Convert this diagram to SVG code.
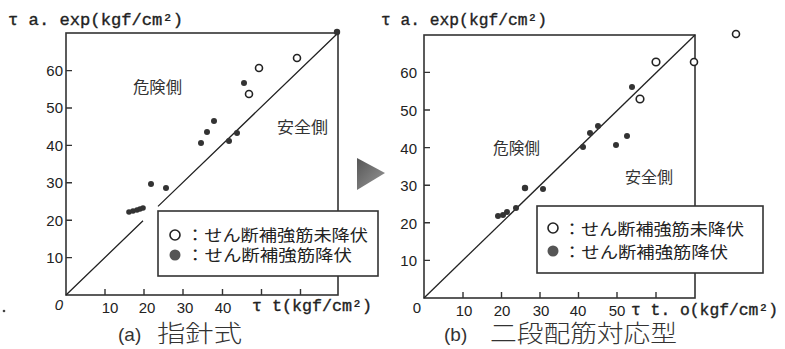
<svg xmlns="http://www.w3.org/2000/svg" width="785" height="349" viewBox="0 0 785 349">
<defs>
<linearGradient id="tri" x1="0" y1="0" x2="1" y2="1">
<stop offset="0" stop-color="#555"/><stop offset="1" stop-color="#999"/>
</linearGradient>
<style>
.frame{fill:none;stroke:#333;stroke-width:1.6}
.ax{stroke:#333;stroke-width:1.4;fill:none}
.diag{stroke:#222;stroke-width:1.3;fill:none}
.num{font-family:"Liberation Sans",Arial,sans-serif;font-size:15px;fill:#222}
.mono{font-family:"Liberation Mono","Courier New",monospace;font-size:16px;fill:#222;stroke:#222;stroke-width:0.35}
.jp{font-family:"Noto Sans CJK JP",sans-serif;font-size:16px;fill:#333}
.leg{font-family:"Noto Sans CJK JP",sans-serif;font-size:16px;fill:#222}
.cap{font-family:"Noto Sans CJK JP",sans-serif;font-size:24px;fill:#333;font-weight:300}
.capa{font-family:"Liberation Sans",sans-serif;font-size:19px;fill:#333}
.box{fill:#fff;stroke:#333;stroke-width:1.6}
.f{fill:#333}
.o{fill:#fff;stroke:#222;stroke-width:1.6}
</style>
</defs>
<rect width="785" height="349" fill="#fff"/>

<g id="chartA">
<text class="mono" x="8" y="25" textLength="175" lengthAdjust="spacingAndGlyphs">τ a. exp(kgf/cm²)</text>
<rect class="frame" x="66" y="33" width="272" height="262"/>
<g class="ax">
<path d="M66 257.6H72M66 220.2H72M66 182.8H72M66 145.4H72M66 108H72M66 70.6H72"/>
<path d="M105 295V289M144 295V289M183 295V289M222.5 295V289M261.5 295V289M300.5 295V289"/>
</g>
<g class="num" text-anchor="end">
<text x="63" y="263">10</text><text x="63" y="226">20</text><text x="63" y="188">30</text>
<text x="63" y="151">40</text><text x="63" y="113">50</text><text x="63" y="76">60</text>
</g>
<g class="num" text-anchor="middle">
<text x="59" y="310" font-style="italic">0</text>
<text x="110" y="313">10</text><text x="147" y="313">20</text><text x="185" y="313">30</text><text x="223" y="313">40</text>
</g>
<text class="mono" x="252" y="311" textLength="120" lengthAdjust="spacingAndGlyphs">τ t(kgf/cm²)</text>
<text class="jp" x="133" y="93" textLength="49" lengthAdjust="spacingAndGlyphs">危険側</text>
<text class="jp" x="277" y="133" textLength="51" lengthAdjust="spacingAndGlyphs">安全側</text>
<text class="capa" x="118" y="341">(a)</text>
<text class="cap" x="157" y="342" textLength="85" lengthAdjust="spacingAndGlyphs">指針式</text>
<circle cx="4" cy="311" r="1.3" fill="#444"/>
</g>

<g id="chartB">
<text class="mono" x="381" y="25" textLength="166" lengthAdjust="spacingAndGlyphs">τ a. exp(kgf/cm²)</text>
<rect class="frame" x="424" y="35" width="271" height="263"/>
<g class="ax">
<path d="M424 260.4H430M424 222.8H430M424 185.2H430M424 147.6H430M424 110H430M424 72.4H430"/>
<path d="M463 298V292M501.5 298V292M540 298V292M578.5 298V292M617 298V292M656 298V292"/>
</g>
<g class="num" text-anchor="end">
<text x="417" y="266">10</text><text x="417" y="229">20</text><text x="417" y="191">30</text>
<text x="417" y="154">40</text><text x="417" y="116">50</text><text x="417" y="78">60</text>
</g>
<g class="num" text-anchor="middle">
<text x="417" y="313">0</text>
<text x="464" y="316">10</text><text x="502" y="316">20</text><text x="541" y="316">30</text><text x="578" y="316">40</text><text x="617" y="316">50</text>
</g>
<text class="mono" x="631" y="315" textLength="147" lengthAdjust="spacingAndGlyphs">τ t. o(kgf/cm²)</text>
<text class="jp" x="493" y="154" textLength="47" lengthAdjust="spacingAndGlyphs">危険側</text>
<text class="jp" x="625" y="183" textLength="48" lengthAdjust="spacingAndGlyphs">安全側</text>
<text class="capa" x="444" y="341">(b)</text>
<text class="cap" x="490" y="342" textLength="187" lengthAdjust="spacingAndGlyphs">二段配筋対応型</text>
</g>

<g id="connectors">
<path class="diag" d="M66 295L143 220.8M158 206.4L338 33"/>
<path class="diag" d="M424 298L695 35"/>
</g>

<g id="pointsA">
<circle class="f" cx="337" cy="32" r="3.2"/>
<circle class="o" cx="297" cy="58" r="3.5"/>
<circle class="o" cx="259" cy="68" r="3.5"/>
<circle class="f" cx="244" cy="83" r="3"/>
<circle class="o" cx="249" cy="94" r="3.5"/>
<circle class="f" cx="214" cy="121" r="3"/>
<circle class="f" cx="207" cy="132" r="3"/>
<circle class="f" cx="201" cy="143" r="3"/>
<circle class="f" cx="229" cy="141" r="3"/>
<circle class="f" cx="237" cy="133" r="3"/>
<circle class="f" cx="151" cy="184" r="3"/>
<circle class="f" cx="166" cy="188" r="3"/>
<circle class="f" cx="129" cy="212" r="2.8"/>
<circle class="f" cx="133" cy="211" r="2.8"/>
<circle class="f" cx="137" cy="210" r="2.8"/>
<circle class="f" cx="140" cy="209" r="2.8"/>
<circle class="f" cx="143" cy="208" r="2.8"/>
</g>

<g id="pointsB">
<circle class="o" cx="736" cy="34" r="3.5"/>
<circle class="o" cx="694" cy="62" r="3.5"/>
<circle class="o" cx="656" cy="62" r="3.8"/>
<circle class="f" cx="632" cy="87" r="3"/>
<circle class="o" cx="640" cy="99" r="3.8"/>
<circle class="f" cx="598" cy="126" r="3"/>
<circle class="f" cx="590" cy="133" r="3"/>
<circle class="f" cx="583" cy="147" r="3"/>
<circle class="f" cx="616" cy="145" r="3"/>
<circle class="f" cx="627" cy="136" r="3"/>
<circle class="f" cx="525" cy="188" r="3.2"/>
<circle class="f" cx="543" cy="189" r="3"/>
<circle class="f" cx="498" cy="216" r="3"/>
<circle class="f" cx="503" cy="215" r="3"/>
<circle class="f" cx="507" cy="212" r="3"/>
<circle class="f" cx="516" cy="208" r="3"/>
</g>

<g id="legendA">
<rect class="box" x="158" y="211" width="220" height="65"/>
<circle class="o" cx="175" cy="235" r="5"/>
<text class="leg" x="186" y="241" textLength="182" lengthAdjust="spacingAndGlyphs">：せん断補強筋未降伏</text>
<circle cx="175" cy="255" r="5.5" fill="#555"/>
<text class="leg" x="186" y="261" textLength="166" lengthAdjust="spacingAndGlyphs">：せん断補強筋降伏</text>
</g>

<g id="legendB">
<rect class="box" x="537" y="206" width="226" height="67"/>
<circle class="o" cx="553" cy="228" r="5"/>
<text class="leg" x="563" y="235" textLength="181" lengthAdjust="spacingAndGlyphs">：せん断補強筋未降伏</text>
<circle cx="553" cy="251" r="5.5" fill="#555"/>
<text class="leg" x="563" y="258" textLength="165" lengthAdjust="spacingAndGlyphs">：せん断補強筋降伏</text>
</g>

<g id="arrow">
<polygon points="357,158 357,190 385,173" fill="url(#tri)"/>
</g>
</svg>
